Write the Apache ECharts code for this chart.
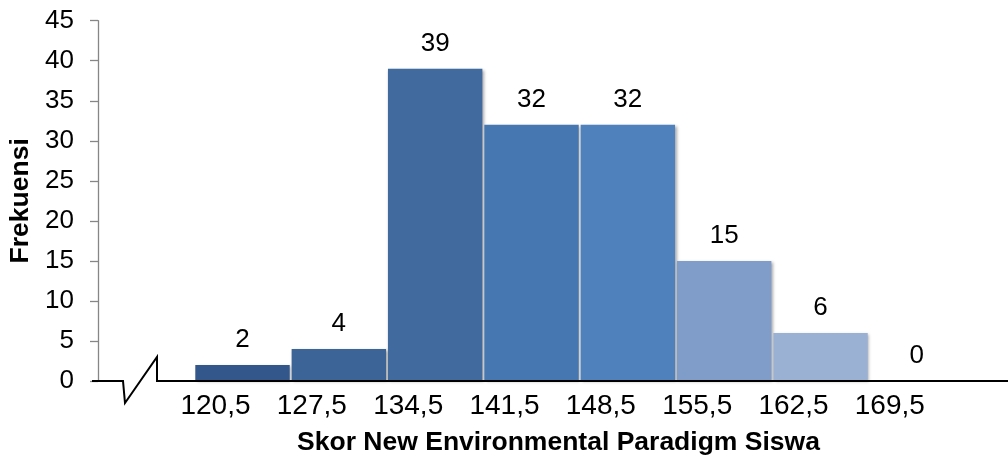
<!DOCTYPE html>
<html>
<head>
<meta charset="utf-8">
<script src="https://cdn.jsdelivr.net/npm/echarts@6/dist/echarts.min.js"></script>
<style>
html,body{margin:0;padding:0;background:#fff;}
#c{width:1008px;height:455px;}
</style>
</head>
<body>
<div id="c"></div>
<script>
// Data
var categories = ['', '120,5', '127,5', '134,5', '141,5', '148,5', '155,5', '162,5', '169,5'];
var frequencies = [null, 2, 4, 39, 32, 32, 15, 6, 0];
var yTicks = { min: 0, max: 45, interval: 5 };
var xTitle = 'Skor New Environmental Paradigm Siswa';
var yTitle = 'Frekuensi';

// Styles
var barColors = ['#33578A', '#33578A', '#3C6497', '#416B9F', '#4777B0', '#4F81BD', '#7F9DC8', '#9BB1D4', '#9BB1D4'];
var FONT = '"Liberation Sans", Arial, sans-serif';

var chart = echarts.init(document.getElementById('c'), null, { renderer: 'canvas' });

var seriesData = frequencies.map(function (v, i) {
  return { value: v, itemStyle: { color: barColors[i] } };
});

var GRID_LEFT = 98;
var option = {
  animation: false,
  backgroundColor: '#ffffff',
  grid: { left: GRID_LEFT, right: 43, top: 20.7, bottom: 74, containLabel: false, outerBoundsMode: 'none' },
  xAxis: {
    type: 'category',
    data: categories,
    axisLine: { show: false },
    axisTick: { show: false },
    axisLabel: {
      interval: 0,
      margin: 11,
      fontFamily: FONT,
      fontSize: 28,
      color: '#000',
      padding: [0, 54, 0, 0]
    },
    name: xTitle,
    nameLocation: 'middle',
    nameGap: 48,
    nameTextStyle: {
      fontFamily: FONT,
      fontSize: 26.5,
      fontWeight: 'bold',
      color: '#000',
      padding: [0, 0, 0, 54]
    }
  },
  yAxis: {
    type: 'value',
    min: yTicks.min,
    max: yTicks.max,
    interval: yTicks.interval,
    splitLine: { show: false },
    axisLine: { show: true, lineStyle: { color: '#868686', width: 1.3 } },
    axisTick: { show: true, inside: false, length: 8, lineStyle: { color: '#868686', width: 1.3 } },
    axisLabel: { margin: 24, fontFamily: FONT, fontSize: 26, color: '#000' },
    name: yTitle,
    nameLocation: 'middle',
    nameRotate: 90,
    nameGap: 63,
    nameTextStyle: { fontFamily: FONT, fontSize: 26.5, fontWeight: 'bold', color: '#000' }
  },
  series: [{
    type: 'bar',
    data: seriesData,
    barWidth: '98%',
    itemStyle: {
      shadowColor: 'rgba(0,0,0,0.35)',
      shadowBlur: 3,
      shadowOffsetX: 1.5,
      shadowOffsetY: 1
    },
    label: {
      show: true,
      position: 'top',
      distance: 12,
      fontFamily: FONT,
      fontSize: 26,
      color: '#000'
    }
  }]
};
chart.setOption(option);

// X axis line with axis-break symbol, positioned from the value axis zero
var y0 = chart.convertToPixel({ yAxisIndex: 0 }, 0);
var W = chart.getWidth();
chart.setOption({
  graphic: [{
    type: 'polyline',
    z: 100,
    shape: {
      points: [
        [GRID_LEFT - 6, y0],
        [GRID_LEFT + 25, y0],
        [GRID_LEFT + 27, y0 + 22],
        [GRID_LEFT + 59, y0 - 24],
        [GRID_LEFT + 59, y0],
        [W, y0]
      ]
    },
    style: { stroke: '#000', lineWidth: 2, fill: null, lineJoin: 'miter' }
  }]
});
</script>
</body>
</html>
